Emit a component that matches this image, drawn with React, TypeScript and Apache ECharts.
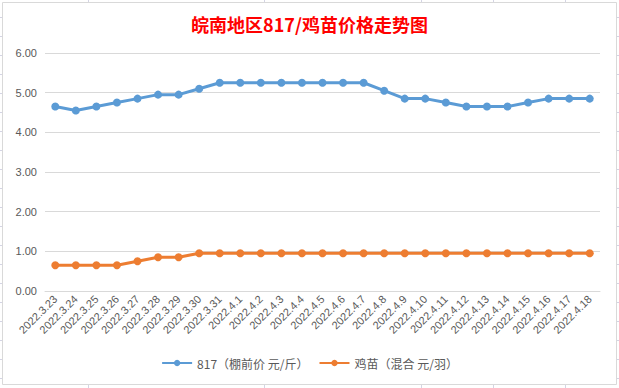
import React, { useEffect, useRef } from "react";
import * as echarts from "echarts";

const categories = [
  "2022.3.23", "2022.3.24", "2022.3.25", "2022.3.26", "2022.3.27", "2022.3.28", "2022.3.29",
  "2022.3.30", "2022.3.31", "2022.4.1", "2022.4.2", "2022.4.3", "2022.4.4", "2022.4.5",
  "2022.4.6", "2022.4.7", "2022.4.8", "2022.4.9", "2022.4.10", "2022.4.11", "2022.4.12",
  "2022.4.13", "2022.4.14", "2022.4.15", "2022.4.16", "2022.4.17", "2022.4.18",
];

const price817 = [
  4.65, 4.55, 4.65, 4.75, 4.85, 4.95, 4.95, 5.1, 5.25, 5.25, 5.25, 5.25, 5.25, 5.25,
  5.25, 5.25, 5.05, 4.85, 4.85, 4.75, 4.65, 4.65, 4.65, 4.75, 4.85, 4.85, 4.85,
];

const chickPrice = [
  0.65, 0.65, 0.65, 0.65, 0.75, 0.85, 0.85, 0.95, 0.95, 0.95, 0.95, 0.95, 0.95, 0.95,
  0.95, 0.95, 0.95, 0.95, 0.95, 0.95, 0.95, 0.95, 0.95, 0.95, 0.95, 0.95, 0.95,
];

const seriesNames = ["817（棚前价 元/斤）", "鸡苗（混合 元/羽）"];
const titleText = "皖南地区817/鸡苗价格走势图";

const rowLines = [17, 36, 55, 74, 93, 112, 131, 150, 169, 188, 207, 226, 245, 264, 283, 302, 321, 340, 359, 378];
const colLines = [88, 264, 421, 493, 565];

export default function App() {
  const ref = useRef<HTMLDivElement>(null);

  useEffect(() => {
    if (!ref.current) return;
    const chart = echarts.init(ref.current, null, { renderer: "svg" });
    const cellColor = "#d4d4e4";
    const decor: any[] = [];
    rowLines.forEach((y) => {
      decor.push({ type: "line", shape: { x1: 0, y1: y + 0.5, x2: 2, y2: y + 0.5 }, style: { stroke: cellColor, lineWidth: 1 }, silent: true });
      decor.push({ type: "line", shape: { x1: 617, y1: y + 0.5, x2: 619, y2: y + 0.5 }, style: { stroke: cellColor, lineWidth: 1 }, silent: true });
    });
    colLines.forEach((x) => {
      decor.push({ type: "line", shape: { x1: x + 0.5, y1: 0, x2: x + 0.5, y2: 2 }, style: { stroke: cellColor, lineWidth: 1 }, silent: true });
      decor.push({ type: "line", shape: { x1: x + 0.5, y1: 385, x2: x + 0.5, y2: 388 }, style: { stroke: cellColor, lineWidth: 1 }, silent: true });
    });
    decor.push({
      type: "rect",
      shape: { x: 2.5, y: 2.5, width: 614, height: 382 },
      style: { fill: "transparent", stroke: "#d9d9d9", lineWidth: 1 },
      silent: true,
      z: -1,
    });

    chart.setOption({
      animation: false,
      backgroundColor: "#ffffff",
      title: {
        text: titleText,
        left: "center",
        top: 10,
        textStyle: {
          color: "#ff0000",
          fontSize: 18,
          fontWeight: "bold",
          fontFamily: "Noto Sans CJK SC",
        },
      },
      graphic: decor,
      legend: {
        data: seriesNames,
        bottom: 14,
        left: "center",
        itemWidth: 30,
        itemHeight: 8,
        itemGap: 10,
        textStyle: { color: "#595959", fontSize: 12, fontFamily: "Noto Sans CJK SC" },
      },
      grid: { left: 45, right: 19, top: 53, bottom: 97, containLabel: false },
      xAxis: {
        type: "category",
        data: categories,
        boundaryGap: true,
        axisTick: { show: false },
        axisLine: { lineStyle: { color: "#d9d9d9" } },
        axisLabel: {
          rotate: 45,
          interval: 0,
          color: "#595959",
          fontSize: 11,
          fontFamily: "Liberation Sans",
          margin: 6,
        },
      },
      yAxis: {
        type: "value",
        min: 0,
        max: 6,
        interval: 1,
        axisLine: { show: false },
        axisTick: { show: false },
        splitLine: { lineStyle: { color: "#d9d9d9" } },
        axisLabel: {
          color: "#595959",
          fontSize: 11,
          fontFamily: "Liberation Sans",
          margin: 8,
          formatter: (v: number) => v.toFixed(2),
        },
      },
      series: [
        {
          name: seriesNames[0],
          type: "line",
          data: price817,
          symbol: "circle",
          symbolSize: 8,
          itemStyle: { color: "#5b9bd5" },
          lineStyle: { color: "#5b9bd5", width: 3 },
        },
        {
          name: seriesNames[1],
          type: "line",
          data: chickPrice,
          symbol: "circle",
          symbolSize: 8,
          itemStyle: { color: "#ed7d31" },
          lineStyle: { color: "#ed7d31", width: 3 },
        },
      ],
    });
    return () => chart.dispose();
  }, []);

  return (
    <div
      ref={ref}
      style={{ position: "fixed", left: 0, top: 0, width: 619, height: 388 }}
    />
  );
}
